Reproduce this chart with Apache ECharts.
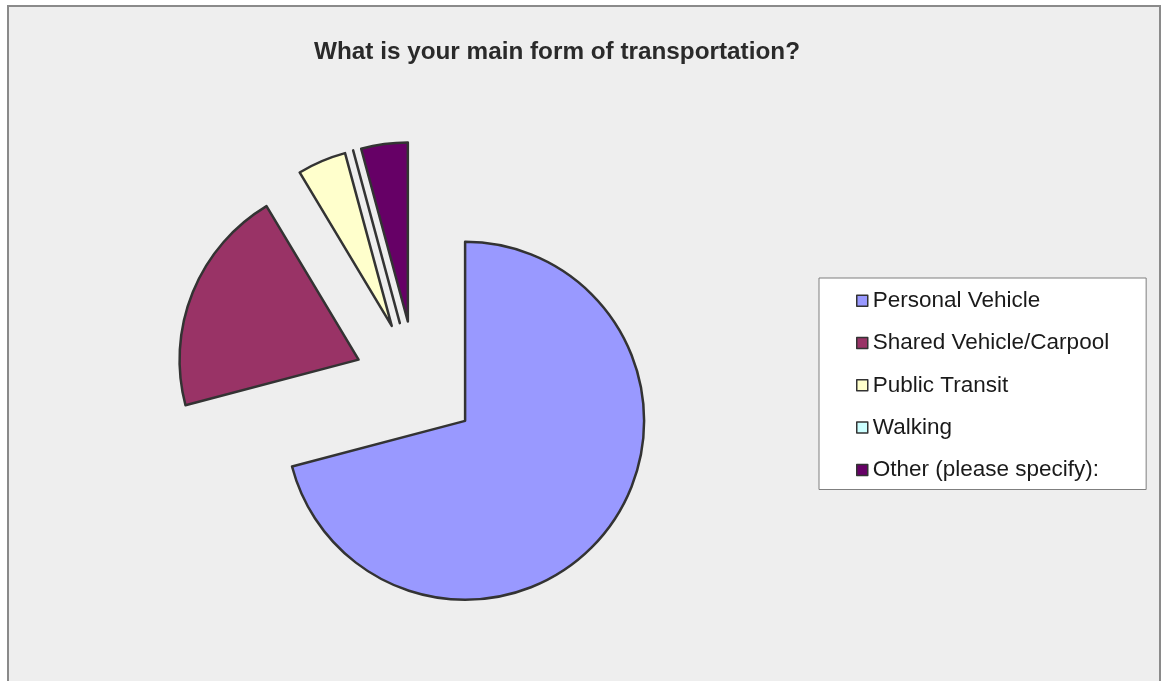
<!DOCTYPE html>
<html>
<head>
<meta charset="utf-8">
<script src="https://cdn.jsdelivr.net/npm/echarts@6/dist/echarts.min.js"></script>
<style>
html,body{margin:0;padding:0;background:#fff;}
#chart{width:1167px;height:681px;}
</style>
</head>
<body>
<div id="chart"></div>
<script>
const titleText = 'What is your main form of transportation?';
const categories = ['Personal Vehicle', 'Shared Vehicle/Carpool', 'Public Transit', 'Walking', 'Other (please specify):'];
const values = [70.9, 20.5, 4.4, 0, 4.2];
const colors = ['#9999FF', '#993366', '#FFFFCC', '#CCFFFF', '#660066'];

const chart = echarts.init(document.getElementById('chart'), null, {renderer: 'canvas'});
const data = categories.map((name, i) => ({
  name: name,
  value: values[i],
  selected: true,
  itemStyle: {color: colors[i]}
}));

chart.setOption({
  animation: false,
  backgroundColor: '#ffffff',
  graphic: [{
    type: 'rect',
    z: -10,
    silent: true,
    shape: {x: 8, y: 6, width: 1152, height: 700},
    style: {fill: '#EEEEEE', stroke: '#8a8a8a', lineWidth: 2}
  }],
  title: {
    text: titleText,
    left: 552,
    top: 35,
    textAlign: 'center',
    textStyle: {
      fontFamily: 'Liberation Sans, Arial, sans-serif',
      fontSize: 24.3,
      fontWeight: 'bold',
      color: '#2a2a2a'
    }
  },
  legend: {
    orient: 'vertical',
    left: 819,
    top: 278,
    padding: [11.2, 37, 8.1, 37],
    backgroundColor: '#ffffff',
    borderColor: '#7f7f7f',
    borderWidth: 1,
    icon: 'rect',
    itemWidth: 11,
    itemHeight: 11,
    itemGap: 19.3,
    selectedMode: false,
    itemStyle: {borderColor: '#333', borderWidth: 1.5},
    textStyle: {
      fontFamily: 'Liberation Sans, Arial, sans-serif',
      fontSize: 22.5,
      color: '#1a1a1a'
    },
    data: categories
  },
  series: [{
    type: 'pie',
    center: [416, 383],
    radius: 179,
    startAngle: 90,
    clockwise: true,
    selectedMode: 'multiple',
    selectedOffset: 62,
    avoidLabelOverlap: false,
    label: {show: false},
    labelLine: {show: false},
    emphasis: {disabled: true},
    select: {itemStyle: {borderColor: '#333', borderWidth: 2.5}},
    itemStyle: {borderColor: '#333', borderWidth: 2.5},
    data: data
  }]
});
</script>
</body>
</html>
